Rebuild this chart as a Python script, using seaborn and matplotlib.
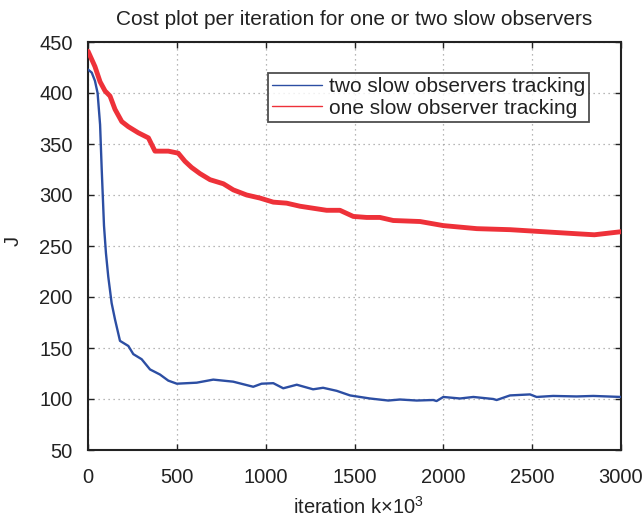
import matplotlib
matplotlib.use("Agg")
import matplotlib.pyplot as plt
import seaborn as sns
import pandas as pd

# ---- data ----
red_iter = [0, 39, 68, 96, 124, 152, 190, 227, 283, 340, 377, 452, 508, 546, 583,
            630, 687, 762, 818, 893, 968, 1043, 1118, 1193, 1268, 1343, 1418, 1493,
            1568, 1643, 1718, 1869, 2000, 2189, 2376, 2562, 2752, 2850, 3000]
red_vals = [441, 426, 411, 402, 397, 384, 372, 367, 361, 356, 343, 343, 341, 333, 327,
            321, 315, 311, 305, 300, 297, 293, 292, 289, 287, 285, 285, 279,
            278, 278, 275, 274, 270, 267, 266, 264, 262, 261, 264]

blue_iter = [0, 21, 39, 54, 68, 77, 90, 101, 114, 133, 152, 180, 227, 255, 302, 349,
             405, 452, 500, 612, 705, 817, 930, 977, 1043, 1099, 1175, 1267, 1323,
             1400, 1475, 1587, 1690, 1756, 1850, 1943, 1962, 2000, 2094, 2169, 2281,
             2300, 2375, 2488, 2525, 2618, 2750, 2844, 3000]
blue_vals = [423, 420, 412, 400, 369, 326, 270, 243, 220, 194, 178, 157, 152, 144, 139, 129,
             124, 118, 115, 116, 119, 117, 112, 115, 115.5, 110.5, 114, 109.5, 111,
             108, 103.5, 100.5, 98.5, 99.5, 98.5, 99, 98, 102, 100.5, 102, 100,
             99, 103.5, 104.5, 102, 103, 102.5, 103, 102]

series_labels = ["two slow observers tracking", "one slow observer tracking"]
title_text = "Cost plot per iteration for one or two slow observers"
x_ticks = [0, 500, 1000, 1500, 2000, 2500, 3000]
y_ticks = [50, 100, 150, 200, 250, 300, 350, 400, 450]

df = pd.concat([
    pd.DataFrame({"iter": blue_iter, "J": blue_vals, "series": series_labels[0]}),
    pd.DataFrame({"iter": red_iter, "J": red_vals, "series": series_labels[1]}),
])

sns.set_style("white")
plt.rcParams["font.family"] = ["Liberation Sans", "DejaVu Sans"]
plt.rcParams["mathtext.fontset"] = "custom"
plt.rcParams["mathtext.rm"] = "Liberation Sans"
plt.rcParams["mathtext.it"] = "Liberation Sans"
plt.rcParams["mathtext.default"] = "rm"

fig = plt.figure(figsize=(6.43, 5.21), dpi=100)
ax = fig.add_axes([88 / 643, 1 - 450 / 521, 533 / 643, 408 / 521])

blue_c = "#2c4ea3"
red_c = "#ee3139"
ink = "#222222"

sns.lineplot(data=df[df.series == series_labels[1]], x="iter", y="J", ax=ax,
             color=red_c, linewidth=3.5, label=series_labels[1], zorder=3)
sns.lineplot(data=df[df.series == series_labels[0]], x="iter", y="J", ax=ax,
             color=blue_c, linewidth=1.7, label=series_labels[0], zorder=4)

ax.set_xlim(0, 3000)
ax.set_ylim(50, 450)
ax.set_xticks(x_ticks)
ax.set_yticks(y_ticks)
ax.tick_params(direction="in", length=4, width=1.0, bottom=True, left=True,
               top=True, right=True, labelsize=14.5, colors=ink)
ax.tick_params(axis="y", pad=11)
ax.tick_params(axis="x", pad=13)
for s in ax.spines.values():
    s.set_visible(True)
    s.set_color(ink)
    s.set_linewidth(1.5)
ax.grid(True, linestyle=(0, (1, 3)), color="#a0a0a0", linewidth=0.9)

ax.set_title(title_text, fontsize=15, color=ink, pad=12)
ax.set_xlabel("iteration k×10$^{3}$", fontsize=14.5, color=ink)
ax.set_ylabel("J", fontsize=14.5, color=ink)
ax.xaxis.set_label_coords(0.507, -0.112)
ax.yaxis.set_label_coords(-0.122, 0.512)

# legend in the order of the reference
h, l = ax.get_legend_handles_labels()
order = [l.index(series_labels[0]), l.index(series_labels[1])]
leg = ax.legend([h[i] for i in order], [l[i] for i in order],
                loc="upper right", bbox_to_anchor=(0.94, 0.924),
                fontsize=15, frameon=True, fancybox=False, handlelength=2.4,
                borderpad=0.2, labelspacing=0.12, handletextpad=0.3,
                borderaxespad=0)
leg.get_frame().set_edgecolor(ink)
leg.get_frame().set_linewidth(1.3)
for line in leg.get_lines():
    line.set_linewidth(1.0)
for t in leg.get_texts():
    t.set_color(ink)

fig.savefig("out.png", dpi=100)
